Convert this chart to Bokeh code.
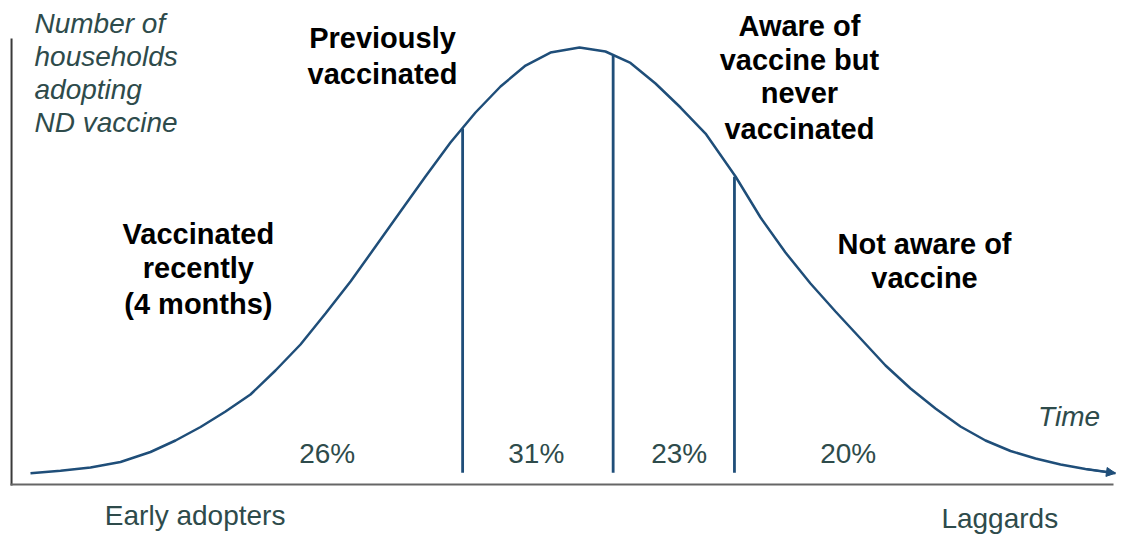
from bokeh.plotting import figure
from bokeh.models import Range1d, Label, Arrow, NormalHead
from bokeh.embed import file_html
from bokeh.resources import INLINE

# ---- data (time 0-100, households as % of peak) ----
curve_time = [0.00, 2.77, 5.54, 8.31, 11.08, 13.39, 15.70, 18.01, 20.31, 22.62, 24.93,
              27.24, 29.55, 31.86, 34.16, 36.47, 38.78, 41.09, 43.40, 45.71, 48.01,
              50.69, 53.09, 55.40, 57.71, 60.02, 62.33, 65.10, 67.41, 69.71, 72.02,
              74.33, 76.64, 78.95, 81.26, 83.56, 85.87, 88.18, 90.49, 92.80, 95.11,
              97.41, 100.18]
curve_households = [0.77, 1.33, 2.10, 3.38, 5.71, 8.39, 11.54, 15.15, 19.11, 24.71, 30.77,
                    38.00, 45.45, 53.61, 61.77, 69.93, 77.86, 84.85, 90.91, 95.80, 98.83,
                    100.00, 99.07, 96.39, 91.61, 86.01, 79.95, 69.93, 60.37, 52.21, 44.99,
                    38.46, 32.17, 25.87, 20.51, 15.85, 11.66, 8.39, 5.94, 4.20, 2.80,
                    1.75, 0.77]
boundary_time = [39.9, 53.8, 65.0]
boundary_top = [81.1, 98.1, 69.9]
segment_share = ["26%", "31%", "23%", "20%"]
segment_names = [["Vaccinated", "recently", "(4 months)"],
                 ["Previously", "vaccinated"],
                 ["Aware of", "vaccine but", "never", "vaccinated"],
                 ["Not aware of", "vaccine"]]
y_title = ["Number of", "households", "adopting", "ND vaccine"]

CURVE = "#1f4e79"
TEAL = "#2e4b4b"
FONT = "Liberation Sans"

p = figure(width=1125, height=535, x_range=Range1d(-2.770, 101.108),
           y_range=Range1d(-13.753, 110.956), x_axis_type=None, y_axis_type=None,
           toolbar_location=None, output_backend="svg", min_border=0,
           outline_line_color=None, background_fill_color="white",
           border_fill_color="white")

# axis lines
p.segment(x0=[-1.75], y0=[-2.1], x1=[-1.75], y1=[102.1], line_color="#3a3a3a", line_width=2)
p.segment(x0=[-1.85], y0=[-1.87], x1=[100.0], y1=[-1.87], line_color="#666666", line_width=2)

# curve
p.line(curve_time, curve_households, line_color=CURVE, line_width=2.5)
p.add_layout(Arrow(end=NormalHead(size=9, fill_color=CURVE, line_color=CURVE, line_width=1),
                   x_start=curve_time[-2], y_start=curve_households[-2],
                   x_end=curve_time[-1], y_end=curve_households[-1],
                   line_color=CURVE, line_width=2))

# boundaries
p.segment(x0=boundary_time, y0=[0.9] * 3, x1=boundary_time, y1=boundary_top,
          line_color=CURVE, line_width=2.8)

def lab(x, y, t, size, style="normal", color=TEAL, align="center"):
    p.add_layout(Label(x=x, y=y, text=t, text_align=align, text_baseline="middle",
                       text_font=FONT, text_font_size=size, text_font_style=style,
                       text_color=color))

# y title
for t, yy in zip(y_title, [105.6, 97.9, 90.2, 82.6]):
    lab(0.37, yy, t, "28px", "italic", align="left")

# percentage labels
for t, xx in zip(segment_share, [27.4, 46.7, 59.9, 75.5]):
    lab(xx, 5.4, t, "28px")

# segment names
name_pos = [(15.5, [56.6, 48.5, 40.3]),
            (32.5, [102.1, 93.9]),
            (71.0, [105.1, 97.0, 89.3, 81.1]),
            (82.55, [54.3, 46.2])]
for lines, (xx, ys) in zip(segment_names, name_pos):
    for t, yy in zip(lines, ys):
        lab(xx, yy, t, "29px", "bold", color="black")

lab(95.9, 13.9, "Time", "28px", "italic")
lab(15.2, -9.0, "Early adopters", "28px")
lab(89.5, -9.8, "Laggards", "28px")

open("out.html", "w").write(file_html(p, INLINE))
